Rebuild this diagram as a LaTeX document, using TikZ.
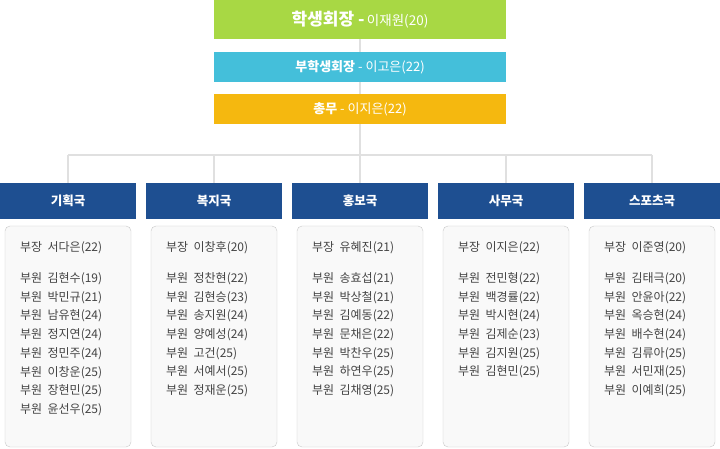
\documentclass[tikz,border=0pt]{standalone}
\usepackage{fontspec}
\setmainfont{Noto Sans CJK KR}
\definecolor{presgreen}{HTML}{A8D844}
\definecolor{vicecyan}{HTML}{44BFDA}
\definecolor{treasyellow}{HTML}{F5B80F}
\definecolor{deptblue}{HTML}{1E4F91}
\definecolor{linegray}{HTML}{E0E0E0}
\definecolor{boxgray}{HTML}{C8C8C8}
\definecolor{textgray}{HTML}{444444}
\tikzset{
  topbox/.style={minimum width=292pt, inner sep=0pt, text=white, font=\bfseries},
  depthead/.style={fill=deptblue, minimum width=136pt, minimum height=36pt, inner sep=0pt, text=white, font=\bfseries\fontsize{12.5}{14}\selectfont},
  memberbox/.style={draw=boxgray, fill=gray!5, rounded corners=5pt},
  member/.style={anchor=west, inner sep=0pt, text=textgray, font=\fontsize{12}{14}\selectfont}
}
\begin{document}
\begin{tikzpicture}[x=1pt,y=-1pt]
\useasboundingbox (0,0) rectangle (720,449);
% connectors
\draw[linegray, line width=2pt] (360,39) -- (360,155);
\draw[linegray, line width=2pt] (68,155) -- (652,155);
\foreach \cx in {68,214,360,506,652}
  \draw[linegray, line width=2pt] (\cx,155) -- (\cx,183);
% top positions
\node[topbox, fill=presgreen, minimum height=39pt] (pres) at (360,19.5)
  {{\fontsize{17}{19}\selectfont 학생회장 -} {\fontsize{13.5}{15}\selectfont\mdseries 이재원(20)}};
\node[topbox, fill=vicecyan, minimum height=30pt, font=\bfseries\fontsize{13}{15}\selectfont] (vice) at (360,67)
  {부학생회장 {\mdseries - 이고은(22)}};
\node[topbox, fill=treasyellow, minimum height=30pt, font=\bfseries\fontsize{13}{15}\selectfont] (treas) at (360,109)
  {총무 {\mdseries - 이지은(22)}};
% departments
\foreach \i/\dname/\head/\members in {
  0/기획국/서다은(22)/{김현수(19),박민규(21),남유현(24),정지연(24),정민주(24),이창운(25),장현민(25),윤선우(25)},
  1/복지국/이창후(20)/{정찬현(22),김현승(23),송지원(24),양예성(24),고건(25),서예서(25),정재운(25)},
  2/홍보국/유혜진(21)/{송효섭(21),박상철(21),김예동(22),문채은(22),박찬우(25),하연우(25),김채영(25)},
  3/사무국/이지은(22)/{전민형(22),백경률(22),박시현(24),김제순(23),김지원(25),김현민(25)},
  4/스포츠국/이준영(20)/{김태극(20),안윤아(22),옥승현(24),배수현(24),김류아(25),서민재(25),이예희(25)}} {
  \pgfmathsetmacro{\cx}{68+146*\i}
  \draw[memberbox] (\cx-63,226) rectangle (\cx+63,447);
  \node[depthead] (dept\i) at (\cx,201) {\dname};
  \node[member] (head\i) at (\cx-48,248) {부장\ \ \head};
  \foreach \m [count=\k] in \members
    \node[member] (mem\i\k) at (\cx-48,260+18.7*\k) {부원\ \ \m};
}
\end{tikzpicture}
\end{document}
